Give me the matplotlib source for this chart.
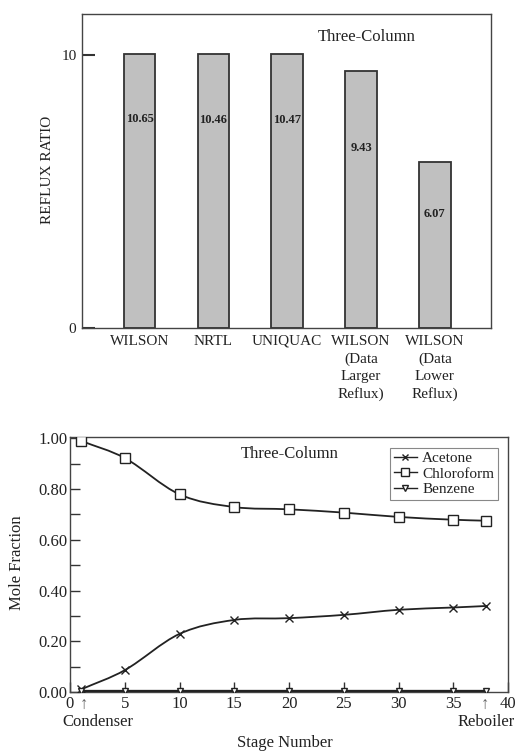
import numpy as np
import matplotlib
matplotlib.use("Agg")
import matplotlib.pyplot as plt
from matplotlib.path import Path
from matplotlib.patches import PathPatch
from matplotlib.lines import Line2D
from matplotlib.ticker import MultipleLocator

plt.rcParams['font.family'] = ['Liberation Serif', 'DejaVu Serif']

# --- top chart data ---
models = ["WILSON", "NRTL", "UNIQUAC", "WILSON\n(Data\nLarger\nReflux)",
          "WILSON\n(Data\nLower\nReflux)"]
reflux_labels = ["10.65", "10.46", "10.47", "9.43", "6.07"]
bar_heights = [10.05, 10.03, 10.03, 9.43, 6.07]   # as drawn in the figure

# --- bottom chart data ---
stages = [1, 5, 10, 15, 20, 25, 30, 35, 38]
acetone = [0.01, 0.086, 0.229, 0.284, 0.291, 0.304, 0.324, 0.333, 0.339]
chloroform = [0.99, 0.922, 0.779, 0.729, 0.720, 0.707, 0.690, 0.679, 0.675]
benzene = [0.003, 0.003, 0.003, 0.003, 0.003, 0.003, 0.003, 0.003, 0.003]

INK = '#222222'


def smooth_path(x, y):
    # cubic Hermite / bezier path through the points
    x = np.asarray(x, float)
    y = np.asarray(y, float)
    n = len(x)
    m = np.zeros(n)
    for i in range(n):
        if i == 0:
            m[i] = (y[1] - y[0]) / (x[1] - x[0])
        elif i == n - 1:
            m[i] = (y[-1] - y[-2]) / (x[-1] - x[-2])
        else:
            m[i] = (y[i + 1] - y[i - 1]) / (x[i + 1] - x[i - 1])
    verts = [(x[0], y[0])]
    codes = [Path.MOVETO]
    for i in range(n - 1):
        d = (x[i + 1] - x[i]) / 3.0
        verts += [(x[i] + d, y[i] + m[i] * d),
                  (x[i + 1] - d, y[i + 1] - m[i + 1] * d),
                  (x[i + 1], y[i + 1])]
        codes += [Path.CURVE4] * 3
    return Path(verts, codes)


fig = plt.figure(figsize=(5.28, 7.51), dpi=100)
W, H = 528.0, 751.0

# ---------------- top: reflux ratio bars ----------------
ax1 = fig.add_axes([82 / W, 1 - 328 / H, (491 - 82) / W, (328 - 14) / H])
xpos = np.arange(len(models))
ax1.bar(xpos, bar_heights, width=0.43, color='#c0c0c0',
        edgecolor='#333333', linewidth=1.3, zorder=2)
lab_frac = [0.76, 0.76, 0.76, 0.70, 0.69]
for xp, h, lab, f in zip(xpos, bar_heights, reflux_labels, lab_frac):
    ax1.text(xp, h * f, lab, ha='center', va='center', fontsize=9,
             fontweight='bold', color=INK, zorder=3)
ax1.set_xlim(-0.78, 4.76)
ax1.set_ylim(0, 11.5)
ax1.set_yticks([0, 10])
ax1.set_yticklabels(["0", "10"])
ax1.set_xticks(xpos)
ax1.set_xticklabels(models, fontsize=11, color=INK, va='top', linespacing=1.4)
ax1.tick_params(axis='x', length=0, pad=5)
ax1.tick_params(axis='y', direction='in', length=9.5, width=1.5,
                labelsize=11, labelcolor=INK, color='#333333', pad=4)
ax1.set_ylabel("REFLUX RATIO", fontsize=11, color=INK)
ax1.yaxis.set_label_coords(-0.068, 0.503)
ax1.text(0.697, 0.927, "Three-Column", transform=ax1.transAxes,
         ha='center', va='center', fontsize=12, color=INK)
for s in ax1.spines.values():
    s.set_color('#444444')
    s.set_linewidth(1.0)

# ---------------- bottom: mole fraction profiles ----------------
ax2 = fig.add_axes([70 / W, 1 - 692 / H, (508 - 70) / W, (692 - 437) / H])
for vals in (chloroform, acetone, benzene):
    ax2.add_patch(PathPatch(smooth_path(stages, vals), facecolor='none',
                            edgecolor=INK, linewidth=1.3 if vals is not benzene else 2.0,
                            zorder=3))
ax2.plot(stages, acetone, linestyle='none', marker='x', markersize=6,
         color=INK, markeredgewidth=1.0, zorder=4)
ax2.plot(stages, chloroform, linestyle='none', marker='s', markersize=6.5,
         markerfacecolor='white', markeredgecolor=INK, markeredgewidth=1.0, zorder=4)
ax2.plot(stages, benzene, linestyle='none', marker='v', markersize=5,
         markerfacecolor='white', markeredgecolor=INK, markeredgewidth=1.0, zorder=4)

ax2.set_xlim(0, 40)
ax2.set_ylim(0, 1.005)
ax2.set_xticks(range(0, 41, 5))
ax2.set_yticks(np.arange(0, 1.01, 0.2))
ax2.set_yticklabels(["%.2f" % v for v in np.arange(0, 1.01, 0.2)])
ax2.yaxis.set_minor_locator(MultipleLocator(0.1))
ax2.tick_params(axis='both', which='both', direction='in', length=7.5,
                width=1.0, color='#333333', labelsize=12, labelcolor=INK)
ax2.tick_params(axis='y', pad=2)
ax2.tick_params(axis='x', pad=3)
ax2.set_ylabel("Mole Fraction", fontsize=12, color=INK)
ax2.yaxis.set_label_coords(-0.103, 0.506)
for s in ax2.spines.values():
    s.set_color('#444444')
    s.set_linewidth(1.0)

ax2.text(0.502, 0.933, "Three-Column", transform=ax2.transAxes,
         ha='center', va='center', fontsize=12, color=INK)

# condenser / reboiler markers under the axis
tr = ax2.get_xaxis_transform()
ax2.text(stages[0] + 0.3, -0.05, "\u2191", transform=tr, ha='center',
         va='center', fontsize=12, color='#666666')
ax2.text(stages[-1] - 0.1, -0.05, "\u2191", transform=tr, ha='center',
         va='center', fontsize=12, color='#666666')
ax2.text(0.064, -0.118, "Condenser", transform=ax2.transAxes, ha='center',
         va='center', fontsize=12, color=INK)
ax2.text(stages[-1], -0.118, "Reboiler", transform=tr, ha='center',
         va='center', fontsize=12, color=INK)
ax2.text(0.491, -0.2, "Stage Number", transform=ax2.transAxes,
         ha='center', va='center', fontsize=12, color=INK)

handles = [
    Line2D([], [], color=INK, lw=1.0, marker='x', markersize=5),
    Line2D([], [], color=INK, lw=1.0, marker='s', markersize=5.5,
           markerfacecolor='white'),
    Line2D([], [], color=INK, lw=1.0, marker='v', markersize=5,
           markerfacecolor='white'),
]
leg = ax2.legend(handles, ["Acetone", "Chloroform", "Benzene"],
                 loc='upper right', bbox_to_anchor=(0.977, 0.957),
                 fontsize=11, frameon=True, fancybox=False, framealpha=1,
                 edgecolor='#888888', handlelength=1.5, handletextpad=0.35,
                 labelspacing=0.1, borderpad=0.25, borderaxespad=0)
leg.get_frame().set_linewidth(0.8)
for t in leg.get_texts():
    t.set_color(INK)

fig.savefig("out.png", dpi=100)
